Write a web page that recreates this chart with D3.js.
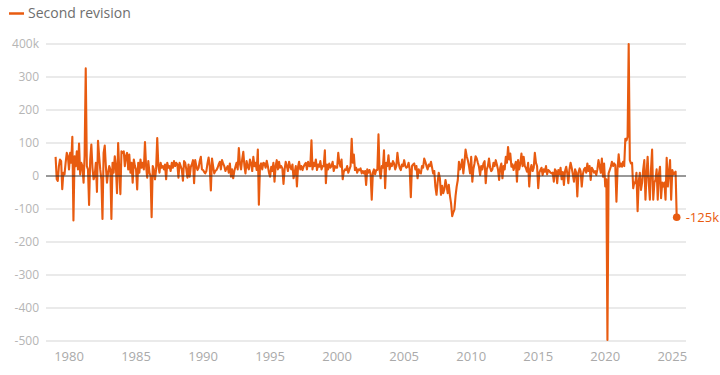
<!DOCTYPE html>
<html>
<head>
<meta charset="utf-8">
<script src="https://cdn.jsdelivr.net/npm/d3@7"></script>
<style>
  body { margin: 0; background: #fff; }
  svg { display: block; font-family: "Open Sans", sans-serif; }
</style>
</head>
<body>
<div id="chart"></div>
<script>
// monthly second revisions, thousands of jobs, starting Jan 1979
var startYear = 1979;

var rev1970s = [
  58, -10, -15, 30, 50, 45, -40, 10, 5, 40, 70, 60       // 1979
];

var rev1980s = [
  20, 70, 40, 119, -135, 60, 30, 75, 20, 98, 5, 40,      // 1980
  30, -20, 60, 326, 30, 20, -88, 50, 95, 25, -10, 0,     // 1981
  40, -48, 107, 60, 20, -10, -130, 70, 92, 30, -20, 10,  // 1982
  30, 20, -130, 40, 10, 60, 30, -52, 100, 20, -55, 75,   // 1983
  70, 75, 30, 60, 70, 20, 65, 10, 40, -20, 50, 30,       // 1984
  20, -41, 40, 10, 50, 25, 40, 20, 103, 30, -5, 45,      // 1985
  10, 0, -125, 30, 20, -10, 20, 115, 30, 10, 40, 25,     // 1986
  30, 20, 35, -10, 40, 25, 30, 15, 40, 25, 45, 30,       // 1987
  40, 35, -5, 40, 30, 20, -14, 45, 40, 20, -5, 35,       // 1988
  -2, 28, 35, 48, -22, 48, 30, 18, 25, 45, 58, 20        // 1989
];

var rev1990s = [
  18, 12, 8, 15, 38, 56, 30, -44, 53, 30, 8, 15,         // 1990
  18, 25, 35, 43, 20, 48, 38, 30, 15, 23, 30, 10,        // 1991
  38, -2, 20, -7, 15, 28, 40, 20, 85, 38, 20, 50,        // 1992
  73, 30, 8, 45, 28, 20, 50, 38, 15, 58, 30, 40,         // 1993
  18, 80, -87, 30, 38, 20, 40, 38, 25, 46, 30, 10,       // 1994
  -2, 28, 15, 40, -17, 30, 48, 20, 43, 25, 30, 23,       // 1995
  -24, 20, 43, 30, 15, 43, 28, 20, 35, -7, 10, 30,       // 1996
  -32, 28, 43, 20, 30, 18, 28, 35, 40, 20, 43, 30,       // 1997
  30, 108, 20, 40, 30, 50, 18, 35, 28, 45, 20, 30,       // 1998
  30, 78, -22, 35, 20, 38, 25, 30, 43, 15, 30, 25        // 1999
];

var rev2000s = [
  25, 70, 40, 28, 50, -10, 13, 20, 18, 30, 10, 20,       // 2000
  30, 113, 40, 65, 18, 25, 10, 20, 18, 23, 8, 15,        // 2001
  8, 15, -27, 20, 10, 18, 5, -72, 10, 20, 5, 18,         // 2002
  18, 126, 20, -7, 30, 25, 78, -37, 40, 30, 63, 20,      // 2003
  38, 30, 45, 38, 20, 30, 70, 40, 25, 18, 35, 30,        // 2004
  48, 30, 25, 28, 40, 20, -64, 30, 35, 38, 20, 30,       // 2005
  -7, 20, 10, 8, 30, 25, 53, 43, 30, 20, 35, 30,         // 2006
  43, 25, 8, 15, -32, -57, -20, 10, -7, -57, -30, -52,   // 2007
  -40, -12, -30, -52, -27, -60, -82, -122, -110, -102, -60, -32, // 2008
  -12, 43, 20, 30, 50, 8, 40, 80, 60, 48, 30, 8          // 2009
];

var rev2010s = [
  58, -17, 20, 38, 60, 53, 40, 28, 3, 30, 20, 38,        // 2010
  45, -22, 20, 30, 53, 25, 15, 20, 40, 30, 48, 35,       // 2011
  20, -12, 25, 38, -7, 30, 20, 58, 40, 88, 50, 68,       // 2012
  28, 35, 18, 30, 43, -17, 48, 20, 38, 68, 30, 58,       // 2013
  30, 23, 13, 40, -32, 20, 33, 15, 25, 70, 40, 30,       // 2014
  -37, 10, 18, 25, 3, 20, 13, 30, 5, 18, 15, 10,         // 2015
  8, 10, -17, 20, 15, -22, 18, 5, 25, -10, 12, -27,      // 2016
  15, 28, 10, -22, 20, 40, 25, 5, -17, 20, 10, -62,      // 2017
  10, 23, 15, -32, 5, 20, 25, 10, 38, 15, 30, -12,       // 2018
  25, 18, 10, 15, 3, 20, 48, 30, 10, 53, -2, 38          // 2019
];

var rev2020s = [
  -32, -10, -497, 8, 18, 28, 43, 30, 38, 33, -78, 20,    // 2020
  66, 28, 38, 28, 43, 30, 113, 108, 119, 400, 48, 38,    // 2021
  40, -37, -20, -22, 10, -107, -17, 10, -42, -20, 20, 48, // 2022
  -72, 10, 58, -20, -72, 20, 80, -72, -20, -12, 20, -72, // 2023
  5, 28, -67, -20, -32, -20, -72, 55, -32, 10, 48, -72,  // 2024
  18, 5, 10, 13, -125                                    // 2025
];

var yTicks = [-500, -400, -300, -200, -100, 0, 100, 200, 300, 400];
var xTickYears = [1980, 1985, 1990, 1995, 2000, 2005, 2010, 2015, 2020, 2025];
var seriesName = "Second revision";

var values = [].concat(rev1970s, rev1980s, rev1990s, rev2000s, rev2010s, rev2020s);
var data = values.map(function (v, i) {
    return { date: new Date(startYear, i, 1), value: v };
});

var width = 720, height = 375;
var orange = "#e85b10";

var svg = d3.select("#chart").append("svg")
    .attr("width", width)
    .attr("height", height);

var last = data[data.length - 1];

var x = d3.scaleTime()
    .domain([data[0].date, last.date])
    .range([55.6, 676.7]);

var y = d3.scaleLinear()
    .domain([-500, 400])
    .range([341, 44]);

var gridLeft = 46, gridRight = 686;

// gridlines + y labels
var grid = svg.append("g");
grid.selectAll("line")
    .data(yTicks.filter(function (d) { return d !== 0; }))
    .enter().append("line")
    .attr("x1", gridLeft).attr("x2", gridRight)
    .attr("y1", function (d) { return y(d); })
    .attr("y2", function (d) { return y(d); })
    .attr("stroke", "#e3e3e3")
    .attr("stroke-width", 1.5);

svg.append("g").selectAll("text")
    .data(yTicks)
    .enter().append("text")
    .attr("x", 39)
    .attr("y", function (d) { return y(d); })
    .attr("dy", "0.35em")
    .attr("text-anchor", "end")
    .attr("font-size", "12px")
    .attr("fill", "#b5b5b5")
    .text(function (d) { return d === 400 ? "400k" : String(d); });

// x labels
svg.append("g").selectAll("text")
    .data(xTickYears)
    .enter().append("text")
    .attr("x", function (d) { return x(new Date(d, 0, 1)); })
    .attr("y", 361)
    .attr("text-anchor", "middle")
    .attr("font-size", "13px")
    .attr("fill", "#aaa")
    .text(function (d) { return d; });

// line
var line = d3.line()
    .x(function (d) { return x(d.date); })
    .y(function (d) { return y(d.value); });

svg.append("path")
    .datum(data)
    .attr("d", line)
    .attr("fill", "none")
    .attr("stroke", orange)
    .attr("stroke-width", 2.1)
    .attr("stroke-linejoin", "round");

// zero line on top
svg.append("line")
    .attr("x1", gridLeft).attr("x2", gridRight)
    .attr("y1", y(0)).attr("y2", y(0))
    .attr("stroke", "#333")
    .attr("stroke-width", 1);

// end point + label
svg.append("circle")
    .attr("cx", x(last.date))
    .attr("cy", y(last.value))
    .attr("r", 3.8)
    .attr("fill", orange);

svg.append("text")
    .attr("x", x(last.date) + 9)
    .attr("y", y(last.value))
    .attr("dy", "0.35em")
    .attr("font-size", "13px")
    .attr("fill", orange)
    .text(last.value + "k");

// legend
svg.append("line")
    .attr("x1", 9).attr("x2", 24)
    .attr("y1", 13.5).attr("y2", 13.5)
    .attr("stroke", orange)
    .attr("stroke-width", 2.5);

svg.append("text")
    .attr("x", 28)
    .attr("y", 13.5)
    .attr("dy", "0.35em")
    .attr("font-size", "14px")
    .attr("fill", "#6e6e6e")
    .text(seriesName);
</script>
</body>
</html>
